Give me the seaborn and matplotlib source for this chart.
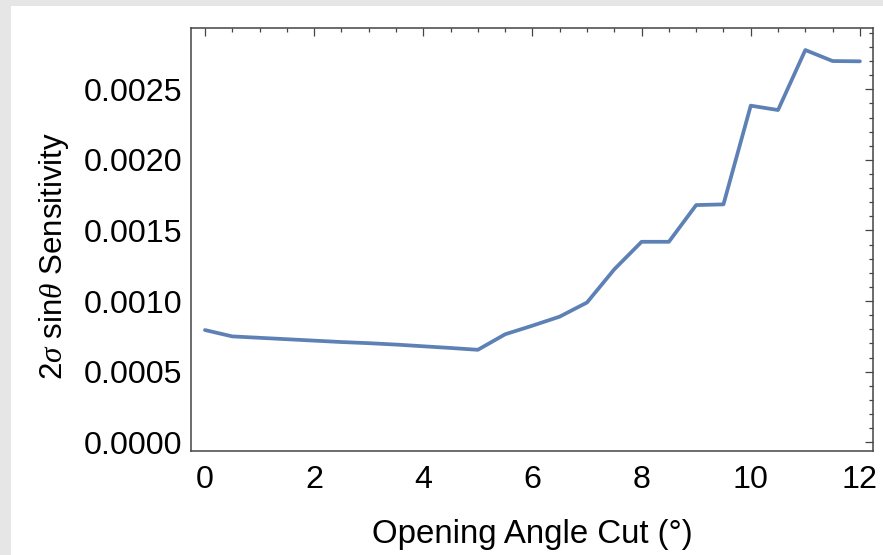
import matplotlib
matplotlib.use("Agg")
import matplotlib.pyplot as plt
from matplotlib.ticker import MultipleLocator, FormatStrFormatter
from matplotlib.patches import Rectangle
import seaborn as sns
import pandas as pd

angle_cut = [0, 0.5, 1, 1.5, 2, 2.5, 3, 3.5, 4, 4.5, 5, 5.5, 6, 6.5, 7, 7.5,
             8, 8.5, 9, 9.5, 10, 10.5, 11, 11.5, 12]
sensitivity = [0.000795, 0.000750, 0.000740, 0.000730, 0.000720, 0.000710,
               0.000702, 0.000692, 0.000680, 0.000668, 0.000655, 0.000765,
               0.000826, 0.000890, 0.000990, 0.001225, 0.001420, 0.001420,
               0.001680, 0.001685, 0.002384, 0.002353, 0.002778, 0.002700,
               0.002698]
x_ticks = [0, 2, 4, 6, 8, 10, 12]
y_ticks = [0.0, 0.0005, 0.0010, 0.0015, 0.0020, 0.0025]

df = pd.DataFrame({"angle": angle_cut, "sens": sensitivity})

sns.set_theme(style="white")
plt.rcParams["font.family"] = ["Liberation Sans", "DejaVu Sans"]
plt.rcParams["mathtext.fontset"] = "custom"
plt.rcParams["mathtext.rm"] = "Liberation Sans"
plt.rcParams["mathtext.it"] = "Liberation Serif:italic"

fig = plt.figure(figsize=(8.83, 5.55), dpi=100, facecolor="#e6e6e6")
bg = Rectangle((11 / 883, 0), 1, 1 - 6 / 555, transform=fig.transFigure,
               facecolor="white", edgecolor="none", zorder=-10)
fig.patches.append(bg)
ax = fig.add_axes([191 / 883, 1 - 450.7 / 555, 682 / 883, 422.7 / 555])
ax.set_zorder(5)
ax.set_facecolor("white")

sns.lineplot(data=df, x="angle", y="sens", ax=ax, color="#5E81B5", linewidth=2.7)

ax.set_xlim(-0.256, 12.24)
ax.set_ylim(-0.0000595, 0.002934)
ax.set_xticks(x_ticks)
ax.xaxis.set_minor_locator(MultipleLocator(0.5))
ax.set_yticks(y_ticks)
ax.yaxis.set_minor_locator(MultipleLocator(0.0001))
ax.yaxis.set_major_formatter(FormatStrFormatter("%.4f"))

for s in ax.spines.values():
    s.set_color("#444444")
    s.set_linewidth(1.1)

ax.tick_params(which="both", direction="in", top=True, right=True,
               labeltop=False, labelright=False, color="#444444", width=0.9)
ax.tick_params(which="major", length=5.5)
ax.tick_params(which="minor", length=3)
ax.tick_params(axis="x", which="major", labelsize=23.2, pad=10.5, labelcolor="black")
ax.tick_params(axis="y", which="major", labelsize=23.2, pad=6, labelcolor="black")

ax.set_xlabel("Opening Angle Cut (°)", fontsize=23.8, color="black", labelpad=17)
ax.set_ylabel(r"2$\sigma$ sin$\theta$ Sensitivity", fontsize=22.5, color="black")
ax.yaxis.set_label_coords(-0.176, 0.46)

fig.savefig("out.png", dpi=100, facecolor=fig.get_facecolor())
